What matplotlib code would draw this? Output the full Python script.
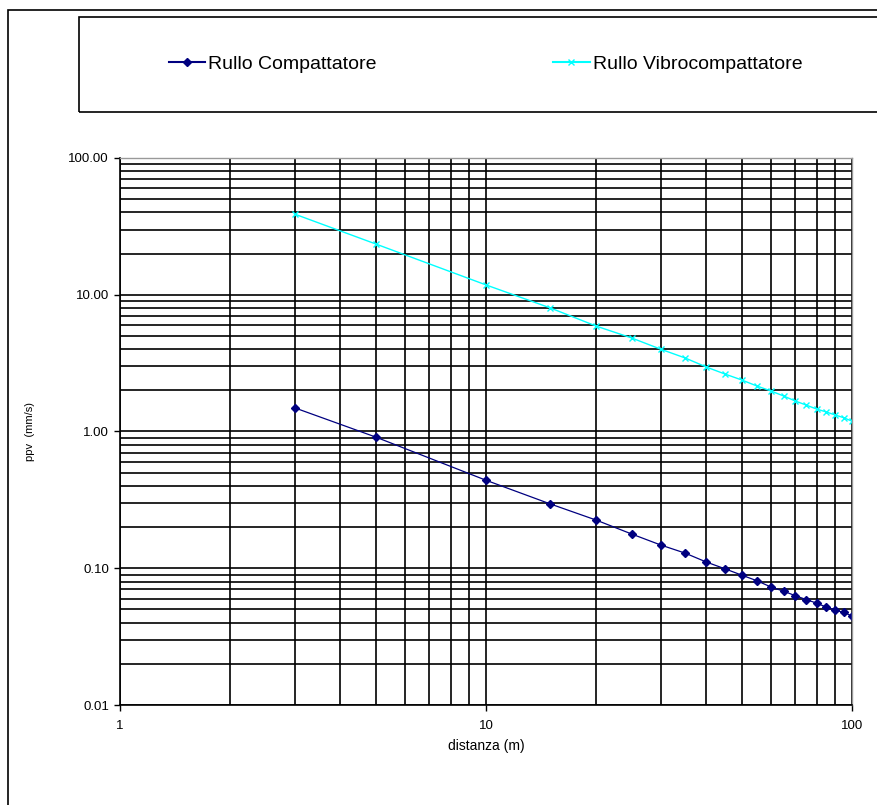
import matplotlib
matplotlib.use('Agg')
import matplotlib.pyplot as plt
from matplotlib.patches import Rectangle
from matplotlib.lines import Line2D
from matplotlib.ticker import FixedLocator, FormatStrFormatter, NullFormatter, LogLocator

plt.rcParams['font.family'] = ['Liberation Sans', 'DejaVu Sans']

# distances (m)
distanza = [3, 5, 10, 15, 20, 25, 30, 35, 40, 45, 50, 55, 60, 65, 70, 75, 80, 85, 90, 95, 100]

# ppv (mm/s)
ppv_compattatore = [1.49, 0.91, 0.44, 0.295, 0.225, 0.178, 0.148, 0.129, 0.111, 0.099, 0.089,
                    0.081, 0.073, 0.068, 0.063, 0.059, 0.0556, 0.052, 0.0494, 0.0475, 0.0448]
ppv_vibro = [38.9, 23.5, 11.8, 8.0, 5.9, 4.83, 4.0, 3.45, 2.96, 2.63, 2.38,
             2.15, 1.98, 1.82, 1.67, 1.56, 1.46, 1.39, 1.32, 1.26, 1.19]

label_comp = 'Rullo Compattatore'
label_vibro = 'Rullo Vibrocompattatore'
x_ticks = [1, 10, 100]
y_ticks = [0.01, 0.1, 1, 10, 100]

W, H = 877, 805
fig = plt.figure(figsize=(W / 100, H / 100), dpi=100)
ax = fig.add_axes([120 / W, 1 - 705 / H, (852 - 120) / W, (705 - 158) / H])

ax.set_xscale('log')
ax.set_yscale('log')
ax.set_xlim(1, 100)
ax.set_ylim(0.01, 100)

# grid on every log subdivision
ax.xaxis.set_minor_locator(LogLocator(base=10, subs=range(2, 10)))
ax.yaxis.set_minor_locator(LogLocator(base=10, subs=range(2, 10)))
ax.grid(True, which='both', color='black', linewidth=1.2)
ax.set_axisbelow(True)

ax.plot(distanza, ppv_compattatore, color='#000080', linewidth=0.9,
        marker='D', markersize=4.5, label=label_comp)
ax.plot(distanza, ppv_vibro, color='#00FFFF', linewidth=1.0,
        marker='x', markersize=5, markeredgewidth=1.0, label=label_vibro)

ax.xaxis.set_major_locator(FixedLocator(x_ticks))
ax.yaxis.set_major_locator(FixedLocator(y_ticks))
ax.xaxis.set_major_formatter(FormatStrFormatter('%g'))
ax.yaxis.set_major_formatter(FormatStrFormatter('%.2f'))
ax.xaxis.set_minor_formatter(NullFormatter())
ax.yaxis.set_minor_formatter(NullFormatter())
ax.tick_params(which='major', direction='out', length=4, width=1, labelsize=9.5)
ax.tick_params(axis='y', which='major', pad=4)
ax.tick_params(axis='x', which='major', pad=7)
ax.tick_params(which='minor', length=0)

for side in ['left', 'bottom']:
    ax.spines[side].set_color('black')
    ax.spines[side].set_linewidth(1.2)
for side in ['top', 'right']:
    ax.spines[side].set_color('#999999')
    ax.spines[side].set_linewidth(1.0)

ax.set_xlabel('distanza (m)', fontsize=10, labelpad=5)
ax.set_ylabel('ppv  (mm/s)', fontsize=8)
ax.yaxis.set_label_coords((35 - 120) / 732, 0.5)

# outer chart frame
fig.patches.append(Rectangle((8 / W, -0.1), 1.2, 1 - 10 / H + 0.1, transform=fig.transFigure,
                             fill=False, edgecolor='black', linewidth=1.2, clip_on=False))
# legend frame
fig.patches.append(Rectangle((79 / W, 1 - 112 / H), 1.0, (112 - 17) / H, transform=fig.transFigure,
                             fill=False, edgecolor='black', linewidth=1.2, clip_on=False))

handles = [Line2D([], [], color='#000080', marker='D', markersize=4.5, linewidth=1.5),
           Line2D([], [], color='#00FFFF', marker='x', markersize=5, linewidth=1.5)]
fig.legend(handles, [label_comp, label_vibro], loc='center left', ncol=2, frameon=False,
           bbox_to_anchor=(151 / W, 1 - 64 / H), fontsize=14, handlelength=1.9,
           handletextpad=0.15, columnspacing=9.05)

fig.savefig('out.png', dpi=100)
